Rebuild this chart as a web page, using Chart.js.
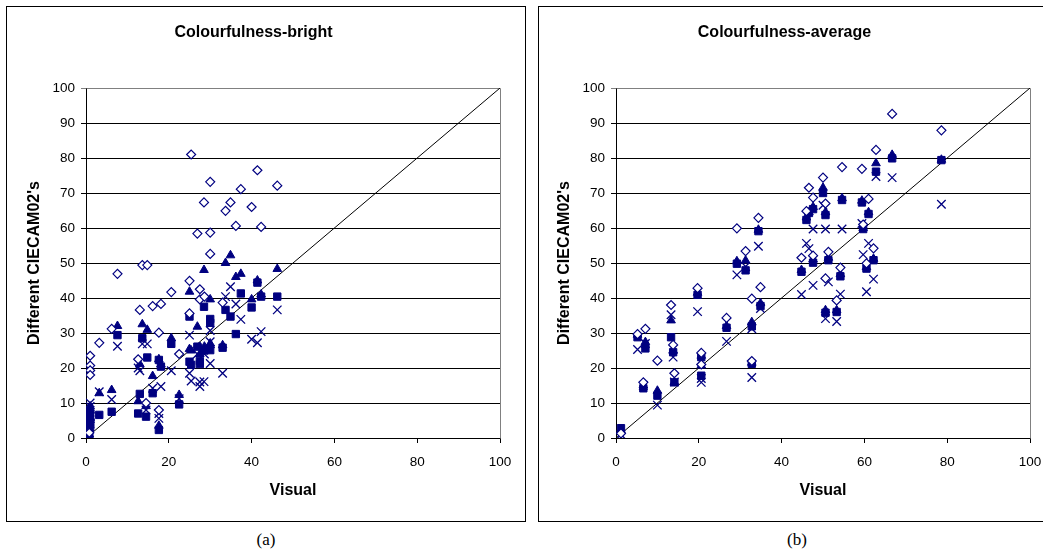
<!DOCTYPE html>
<html>
<head>
<meta charset="utf-8">
<script src="https://cdn.jsdelivr.net/npm/chart.js@4.4.0/dist/chart.umd.min.js"></script>
<style>
  html, body { margin: 0; padding: 0; background: #fff; overflow: hidden; }
  body { width: 1043px; height: 557px; position: relative; }
  .box { position: absolute; top: 6px; height: 514px; border: 1px solid #000; background: #fff; }
  .box canvas { position: absolute; left: 0; top: 0; }
  .cap { position: absolute; top: 530px; font-family: "Liberation Serif", serif; font-size: 17px; color: #000; transform: translateX(-50%); }
</style>
</head>
<body>
<div class="box" style="left:6px; width:518px;"><canvas id="chartA" width="518" height="514"></canvas></div>
<div class="box" style="left:538px; width:520px;"><canvas id="chartB" width="520" height="514"></canvas></div>
<div class="cap" style="left:266px;">(a)</div>
<div class="cap" style="left:797px;">(b)</div>
<script>
// (a) Colourfulness-bright : visual value of each stimulus and the 4 model predictions
const visualA   = [0.8, 1, 1, 1, 1, 3.2, 6.2, 7.6, 12.6, 13, 13.6, 14.8, 14.5, 16.1, 17.6, 17.6, 18.1, 20.6, 22.5, 25, 25, 25.4, 26.9, 27.5, 27.5, 28.5, 28.6, 30, 30, 30, 33, 33.7, 34.9, 36.2, 37.4, 40, 41.4, 42.3, 46.2];
const diamondA  = [1.5, 23.5, 20.7, 19.3, 18.0, 27.2, 31.2, 46.9, 22.5, 36.6, 49.4, 49.4, 10, 37.7, 30.1, 8, 38.3, 41.7, 24, 44.9, 35.6, 81, 58.4, 42.5, 39.6, 67.3, 40.4, 73.2, 58.7, 52.6, 38.7, 64.9, 67.3, 60.6, 71.1, 66, 76.5, 60.3, 72.1];
const triangleA = [1, 9, 8, 6, 5, 12.8, 13.7, 32, 10.5, 21.1, 32.5, 30.9, 9.1, 17.7, 22.5, 3.5, 21, 28.5, 12.3, 41.8, 25.4, 25, 31.8, 26, 24, 48, 26.1, 39.6, 27, 26.5, 26.5, 50, 52.2, 46, 46.9, 39.6, 45, 41, 48.3];
const squareA   = [1, 7, 5.6, 4.2, 3, 6.6, 7.5, 29.4, 7, 12.6, 28.5, 23, 6.1, 12.8, 22.3, 2.3, 20.4, 26.9, 9.6, 34.7, 21.8, 20.9, 26.1, 21.1, 22, 37.5, 25, 32.9, 25.1, 34, 25.8, 36.6, 34.7, 29.7, 41.3, 37.3, 44.4, 40.4, 40.4];
const crossA    = [1, 10, 9, 6, 4, 13.2, 11, 26.2, 20, 19.2, 26.9, 26.9, 8, 14.2, 7, 5.6, 14.7, 19.2, 11.2, 29.4, 18.5, 16.3, 24, 14.7, 16, 16.1, 24, 30.7, 21.3, 27.5, 18.5, 40.4, 43.2, 38.3, 33.9, 28.2, 27.2, 30.4, 36.6];

// (b) Colourfulness-average
const visualB   = [1.2, 5.2, 7.1, 6.6, 10, 13.3, 13.8, 14.1, 19.7, 20.6, 20.6, 26.7, 29.2, 31.3, 32.8, 32.8, 34.4, 34.9, 44.8, 46, 46.6, 47.6, 47.6, 50, 50.6, 51.3, 50.6, 53.3, 54.2, 54.6, 59.4, 59.7, 60.5, 61, 62.2, 62.8, 66.7, 78.6];
const diamondB  = [1.3, 29.7, 31.2, 15.9, 22.1, 38, 26.6, 18.5, 42.8, 24.3, 21, 34.3, 59.9, 53.4, 39.8, 22, 62.9, 43.1, 51.5, 64.8, 71.5, 52.1, 68.7, 74.4, 67, 53.2, 45.6, 39.3, 48.7, 77.4, 76.9, 61, 49.9, 68.3, 54.2, 82.3, 92.6, 87.9];
const triangleB = [2.2, 29.5, 27.4, 15, 13.5, 33.6, 25, 16, 41.5, 23.5, 20.7, 32, 50.5, 50.7, 33.1, 21.5, 59.5, 38.5, 48, 63, 64.5, 51, 66, 71.5, 64.5, 51.5, 36.5, 36.5, 46.8, 68.5, 67.8, 60, 48.8, 64.5, 51.2, 78.5, 80.9, 79.5];
const squareB   = [2.8, 28.8, 25.6, 14.2, 12.1, 28.8, 24.5, 15.9, 40.9, 23.1, 17.8, 31.5, 49.8, 47.9, 31.9, 21.2, 59.1, 37.7, 47.5, 62.3, 64.3, 50.1, 65.4, 70, 63.7, 50.8, 35.8, 36, 46.2, 68, 67.3, 59.7, 48.4, 64, 50.8, 76.1, 79.9, 79.4];
const crossB    = [1, 25.3, 27, 15, 9.4, 35.2, 23.1, 16, 36.1, 17, 15.9, 27.6, 46.6, 49, 31.2, 17.3, 54.8, 37, 41, 55.6, 54.1, 43.6, 59.7, 66.5, 59.7, 44.6, 34.1, 33.3, 41.1, 59.7, 61.3, 52.4, 41.8, 55.6, 45.4, 74.7, 74.4, 66.8];

const diagonal = [0, 100];
const navy = '#000080';

Chart.defaults.color = '#000';
Chart.defaults.font.family = '"Liberation Sans", Arial, sans-serif';

function pairs(xs, ys) {
    return xs.map((x, i) => ({ x: x, y: ys[i] }));
}

// grey frame on top and right of plot area
const framePlugin = {
    id: 'frame',
    beforeDatasetsDraw(chart) {
        const a = chart.chartArea, ctx = chart.ctx;
        ctx.save();
        ctx.strokeStyle = '#808080';
        ctx.lineWidth = 1;
        ctx.beginPath();
        ctx.moveTo(Math.round(a.left) + 0.5, Math.round(a.top) + 0.5);
        ctx.lineTo(Math.round(a.right) + 0.5, Math.round(a.top) + 0.5);
        ctx.lineTo(Math.round(a.right) + 0.5, Math.round(a.bottom) + 0.5);
        ctx.stroke();
        ctx.restore();
    }
};

function makeChart(id, title, xs, d, t, s, c, yWidth, padRight, yTitlePad) {
    const ctx = document.getElementById(id).getContext('2d');
    return new Chart(ctx, {
        type: 'scatter',
        data: {
            datasets: [
                { data: pairs(xs, d), pointStyle: 'rectRot', radius: 4.5, borderWidth: 1.2, borderColor: navy, backgroundColor: '#fff' },
                { data: pairs(xs, t), pointStyle: 'triangle', radius: 5, borderWidth: 1, borderColor: navy, backgroundColor: navy },
                { data: pairs(xs, s), pointStyle: 'rect', radius: 5.2, borderWidth: 1, borderColor: navy, backgroundColor: navy },
                { data: pairs(xs, c), pointStyle: 'crossRot', radius: 6, borderWidth: 1.3, borderColor: navy, backgroundColor: navy },
                { type: 'line', data: pairs(diagonal, diagonal), borderColor: '#000', borderWidth: 1, pointRadius: 0, fill: false }
            ]
        },
        options: {
            responsive: false,
            animation: false,
            events: [],
            layout: { padding: { left: 0, right: padRight, top: 0, bottom: 0 } },
            plugins: {
                legend: { display: false },
                tooltip: { enabled: false },
                title: { display: true, text: title, font: { size: 16, weight: 'bold' }, padding: { top: 16.4, bottom: 45.4 } }
            },
            scales: {
                x: {
                    type: 'linear', min: 0, max: 100,
                    ticks: { stepSize: 20, font: { size: 13.5 }, padding: 11 },
                    grid: { drawOnChartArea: false, color: '#000', tickLength: 5 },
                    border: { color: '#000' },
                    title: { display: true, text: 'Visual', font: { size: 16, weight: 'bold' }, padding: { top: 0, bottom: 20.4 } },
                    afterFit: (scale) => { scale.height = 83; }
                },
                y: {
                    type: 'linear', min: 0, max: 100,
                    ticks: { stepSize: 10, font: { size: 13.5 }, padding: 6 },
                    grid: { color: (c) => (c.tick && c.tick.value === 100 ? '#808080' : '#000'), tickLength: 5 },
                    border: { color: '#000' },
                    title: { display: true, text: "Different CIECAM02's", font: { size: 16, weight: 'bold' }, padding: { top: yTitlePad, bottom: 0 } },
                    afterFit: (scale) => { scale.width = yWidth; }
                }
            }
        },
        plugins: [framePlugin]
    });
}

makeChart('chartA', 'Colourfulness-bright', visualA, diamondA, triangleA, squareA, crossA, 79, 25, 18.4);
makeChart('chartB', 'Colourfulness-average', visualB, diamondB, triangleB, squareB, crossB, 77, 29, 16.4);
</script>
</body>
</html>
